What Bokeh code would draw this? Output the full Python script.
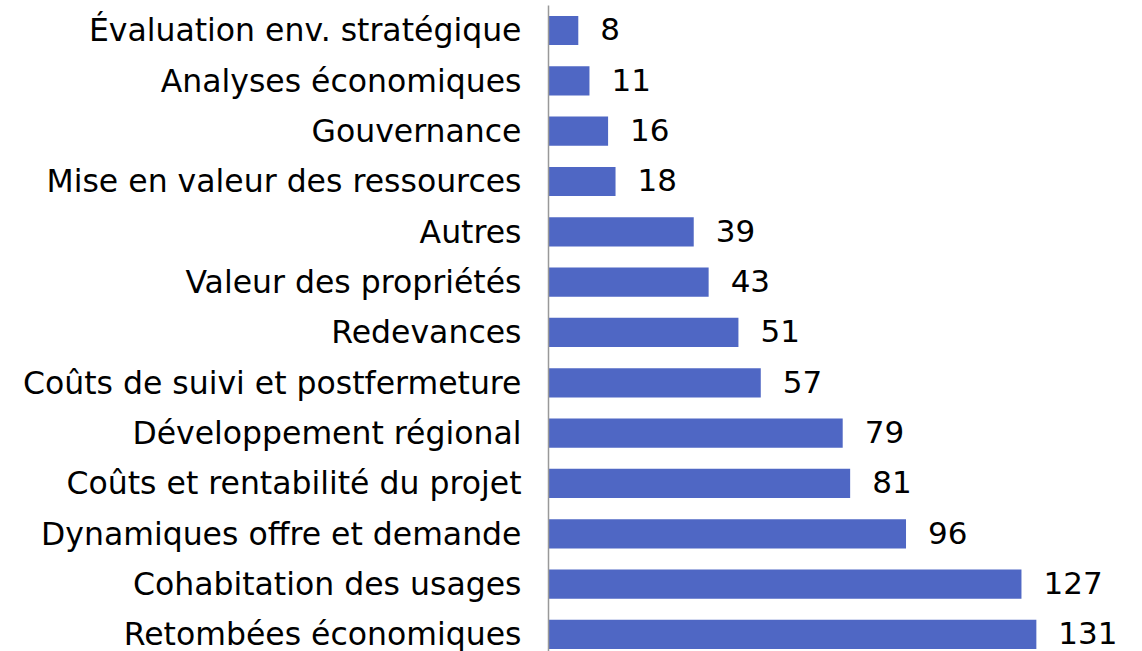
from bokeh.plotting import figure
from bokeh.models import Range1d, FixedTicker, ColumnDataSource
from bokeh.core.properties import value
from bokeh.embed import file_html
from bokeh.resources import INLINE

categories = [
    "Évaluation env. stratégique",
    "Analyses économiques",
    "Gouvernance",
    "Mise en valeur des ressources",
    "Autres",
    "Valeur des propriétés",
    "Redevances",
    "Coûts de suivi et postfermeture",
    "Développement régional",
    "Coûts et rentabilité du projet",
    "Dynamiques offre et demande",
    "Cohabitation des usages",
    "Retombées économiques",
]
values = [8, 11, 16, 18, 39, 43, 51, 57, 79, 81, 96, 127, 131]

pos = list(range(len(categories)))
src = ColumnDataSource(dict(y=pos, v=values, lab=[str(x) for x in values]))

FONT = "DejaVu Sans"
FS = "31.5px"

p = figure(width=1142, height=651, output_backend="svg", toolbar_location=None,
           x_range=Range1d(0, 159.5), y_range=Range1d(12.339, -0.596),
           min_border_left=548, min_border_right=0, min_border_top=0, min_border_bottom=0)
p.hbar(y="y", right="v", left=0, height=0.58, source=src, color="#4f67c4", line_color=None)
p.text(x="v", y="y", text="lab", source=src, x_offset=22, y_offset=-1, text_baseline="middle",
       text_align="left", text_font=value(FONT), text_font_size="31px", text_color="#000000")

p.xaxis.visible = False
p.xgrid.visible = False
p.ygrid.visible = False
p.outline_line_color = None

ax = p.yaxis[0]
ax.ticker = FixedTicker(ticks=pos)
ax.major_label_overrides = {i: c for i, c in zip(pos, categories)}
ax.bounds = (-0.5, 12.339)
ax.major_tick_line_color = None
ax.minor_tick_line_color = None
ax.major_tick_out = 0
ax.major_tick_in = 0
ax.major_label_standoff = 27
ax.major_label_text_font = FONT
ax.major_label_text_font_size = FS
ax.major_label_text_color = "#000000"
ax.axis_line_color = "#999999"
ax.axis_line_width = 1.5

open("out.html", "w").write(file_html(p, INLINE))
